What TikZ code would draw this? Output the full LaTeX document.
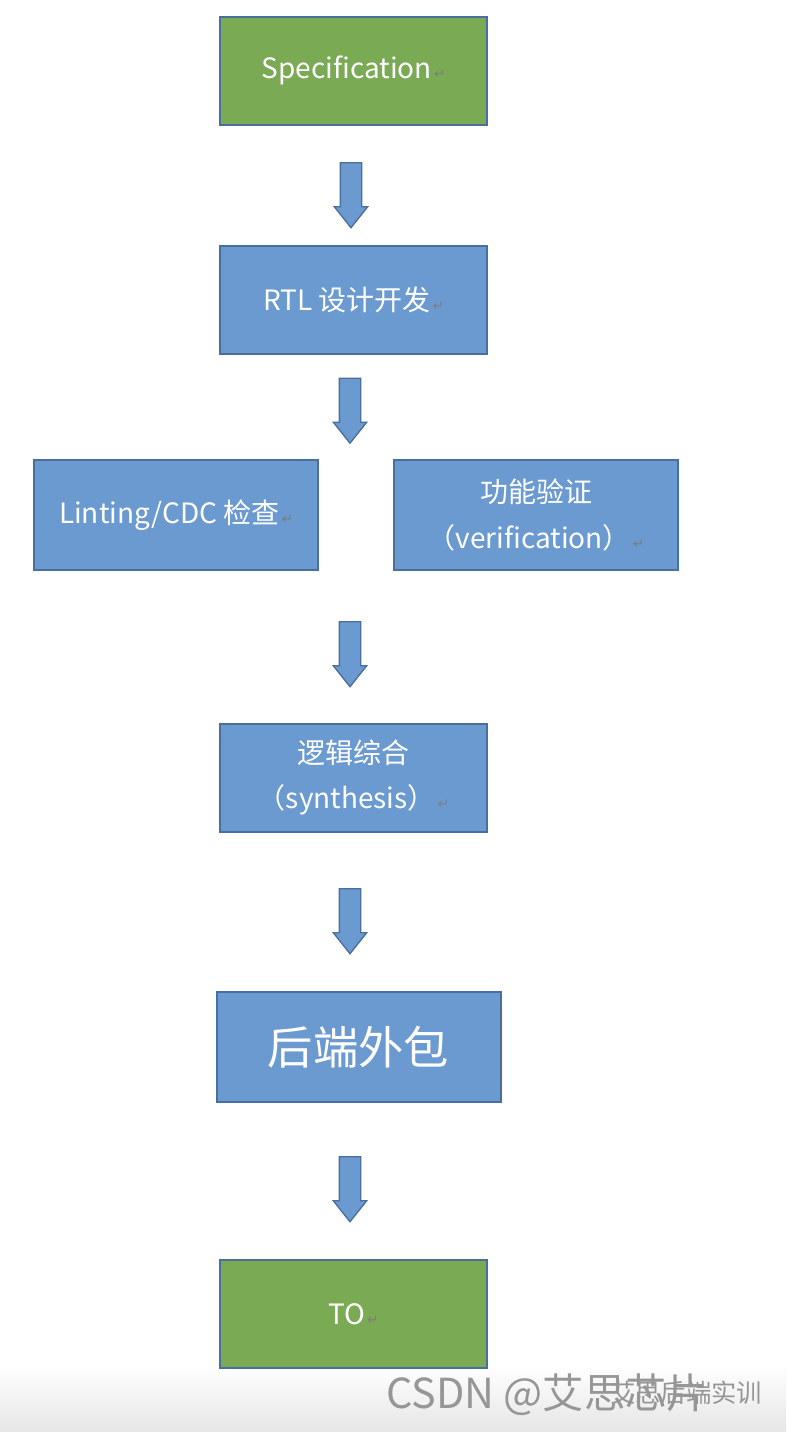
\documentclass[tikz,border=0pt]{standalone}
\usepackage{fontspec}
\setmainfont{Noto Sans CJK SC}
\newfontfamily\retfont{DejaVu Sans}
\usetikzlibrary{shapes.arrows}
\definecolor{boxblue}{RGB}{106,154,208}
\definecolor{boxgreen}{RGB}{123,170,85}
\definecolor{edgeblue}{RGB}{74,110,158}
\definecolor{retgray}{RGB}{125,125,125}
\definecolor{markgray}{RGB}{150,150,150}
\tikzset{
  box/.style={draw=edgeblue, line width=1.5pt, fill=boxblue, text=white, minimum width=200pt, minimum height=81pt, inner sep=0pt, align=center, font=\fontsize{21}{34}\selectfont},
  greenbox/.style={box, fill=boxgreen},
  widebox/.style={box, minimum width=213pt, minimum height=82.5pt},
  downarrow/.style={single arrow, shape border rotate=270, draw=edgeblue, line width=1pt, fill=boxblue, minimum height=48.75pt, single arrow head extend=4.5pt, single arrow tip angle=77, single arrow head indent=0pt, inner sep=7.5pt},
  watermark/.style={text=markgray, inner sep=0pt}
}
\newcommand\ret{{\retfont\fontsize{10}{10}\selectfont\color{retgray}\,↵}}

\begin{document}
\begin{tikzpicture}[x=0.75pt,y=0.75pt,yscale=-1,xscale=1]
\useasboundingbox (0,0) rectangle (786,1432);
% grey band at the foot
\shade[top color=white, bottom color=black!10] (0,1365) rectangle (786,1432);
% flow boxes
\node[greenbox] (spec) at (353.5,70.5) {Specification\ret};
\node[box] (rtl) at (353.5,300) {RTL 设计开发\ret};
\node[widebox] (lint) at (176,515) {Linting/CDC 检查\ret};
\node[widebox] (verif) at (536,515) {功能验证\\（verification）\ret};
\node[box] (synth) at (353.5,777.5) {逻辑综合\\（synthesis）\ret};
\node[widebox, font=\fontsize{34}{40}\selectfont] (backend) at (358.5,1047) {后端外包};
\node[greenbox] (tapeout) at (353.5,1314) {TO\ret};
% block arrows
\node[downarrow] (arr1) at (351,188.5) {};
\node[downarrow] (arr2) at (350,404) {};
\node[downarrow] (arr3) at (350,647.5) {};
\node[downarrow] (arr4) at (350,914.5) {};
\node[downarrow] (arr5) at (350,1182.5) {};
% watermark
\node[watermark, anchor=west, font=\fontsize{31}{31}\selectfont] (mark) at (386,1395) {CSDN @艾思芯片};
\node[watermark, font=\fontsize{19}{19}\selectfont] (mark2) at (686,1393) {艾思后端实训};
\end{tikzpicture}
\end{document}
